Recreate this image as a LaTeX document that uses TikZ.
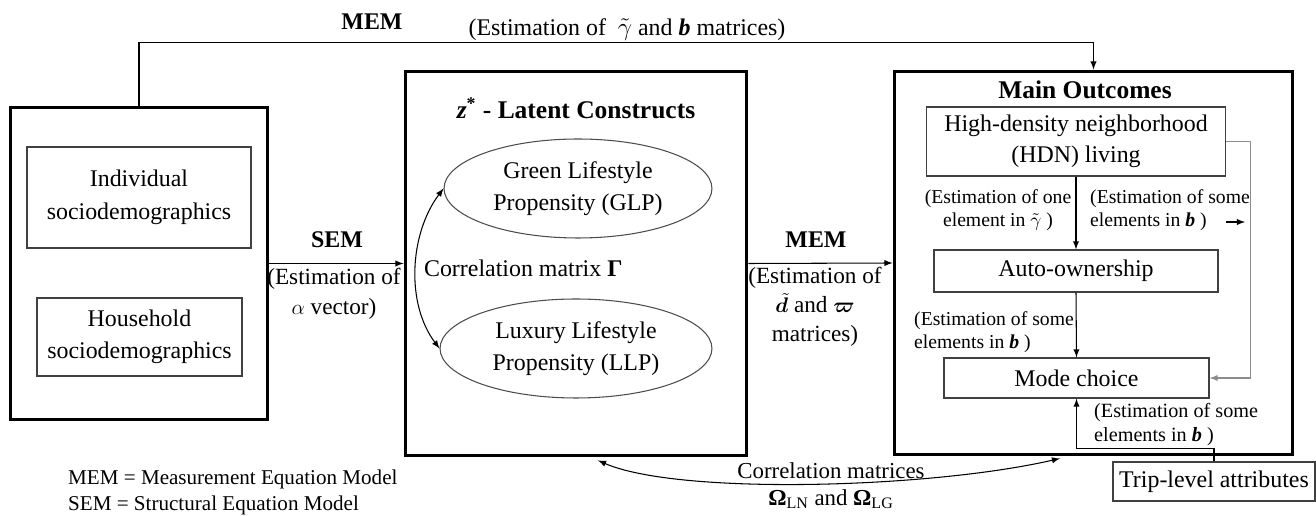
\documentclass[tikz,border=0pt]{standalone}
\usepackage{amsmath}
\usepackage{amssymb}
\usepackage{bm}
\usepackage{fontspec}
\setmainfont{Liberation Serif}
\usetikzlibrary{shapes.geometric}

\begin{document}
\begin{tikzpicture}[x=0.02cm,y=-0.02cm,
    bigbox/.style={draw,line width=1.7pt,inner sep=0pt},
    smallbox/.style={draw=black!75,line width=0.7pt,align=center,inner sep=0pt,font=\fontsize{13.6}{17.5}\selectfont},
    lifestyle/.style={ellipse,draw=black!70,line width=0.6pt,align=center,inner sep=0pt,font=\fontsize{13.6}{18.5}\selectfont},
    est/.style={align=left,inner sep=0.5pt,font=\fontsize{11.2}{13.2}\selectfont},
    link/.style={-latex,line width=0.6pt}]
    \useasboundingbox (0,0) rectangle (1316,516);
    \node[bigbox,minimum width=5.16cm,minimum height=6.26cm] (demo) at (139,263.5) {};
    \node[bigbox,minimum width=6.84cm,minimum height=7.7cm] (lat) at (576,263.5) {};
    \node[bigbox,minimum width=7.98cm,minimum height=7.68cm] (out) at (1093.5,263) {};
    \node[smallbox,font=\fontsize{13.6}{18.8}\selectfont,minimum width=4.48cm,minimum height=2.02cm] (indiv) at (139,197.5) {Individual\\sociodemographics};
    \node[smallbox,font=\fontsize{13.6}{18.3}\selectfont,minimum width=4.1cm,minimum height=1.56cm] (house) at (139.5,337) {Household\\sociodemographics};
    \node[font=\fontsize{14.5}{17}\selectfont\bfseries] (lattitle) at (576,108) {\textit{z}\textsuperscript{*} - Latent Constructs};
    \node[lifestyle,minimum width=5.36cm,minimum height=1.98cm] (glp) at (578,188.5) {Green Lifestyle\\Propensity (GLP)};
    \node[lifestyle,minimum width=5.44cm,minimum height=1.98cm] (llp) at (576,348.5) {Luxury Lifestyle\\Propensity (LLP)};
    \node[anchor=west,inner sep=1pt,font=\fontsize{13.6}{16}\selectfont] (gam) at (422,268) {Correlation matrix \textbf{Γ}};
    \node[font=\fontsize{14.5}{17}\selectfont\bfseries] (outtitle) at (1085,90) {Main Outcomes};
    \node[smallbox,minimum width=5.98cm,minimum height=1.38cm] (hdn) at (1076,141.5) {High-density neighborhood\\(HDN) living};
    \node[smallbox,minimum width=5.68cm,minimum height=0.84cm] (auto) at (1076,271) {Auto-ownership};
    \node[smallbox,minimum width=5.3cm,minimum height=0.8cm] (mode) at (1076.5,378) {Mode choice};
    \node[smallbox,minimum width=4.04cm,minimum height=0.78cm] (trip) at (1214,481.5) {Trip-level attributes};
    \node[font=\fontsize{13.6}{16}\selectfont\bfseries] (memtop) at (372,22) {MEM};
    \node[font=\fontsize{13.6}{16}\selectfont] (memtopest) at (627,30) {(Estimation of \ $\tilde{\gamma}$ and \textbf{\textit{b}} matrices)};
    \node[font=\fontsize{13.6}{16}\selectfont\bfseries] (sem) at (337,240) {SEM};
    \node[align=center,inner sep=1pt,font=\fontsize{13.2}{17}\selectfont] (semest) at (334,294) {(Estimation of\\$\alpha$ vector)};
    \node[font=\fontsize{13.6}{16}\selectfont\bfseries] (memmid) at (816,240) {MEM};
    \node[align=center,inner sep=1pt,font=\fontsize{13.2}{16.4}\selectfont] (memmidest) at (815,307) {(Estimation of\\$\tilde{\bm{d}}$ and $\bm{\varpi}$\\matrices)};
    \node[est,align=center] (hdnest) at (998,210) {(Estimation of one\\element in $\tilde{\gamma}$ )};
    \node[est,anchor=west] (hdnmodeest) at (1089,210) {(Estimation of some\\elements in \textbf{\textit{b}} )};
    \node[est,anchor=west] (autoest) at (913,332) {(Estimation of some\\elements in \textbf{\textit{b}} )};
    \node[est,anchor=west,font=\fontsize{11.5}{14}\selectfont] (tripest) at (1093,424.5) {(Estimation of some\\elements in \textbf{\textit{b}} )};
    \node[align=center,font=\fontsize{13}{15.4}\selectfont] (omega) at (831,485.5) {Correlation matrices\\\textbf{Ω}\textsubscript{LN} and \textbf{Ω}\textsubscript{LG}};
    \node[anchor=west,align=left,font=\fontsize{12}{14.8}\selectfont] (legend) at (62,492) {MEM = Measurement Equation Model\\SEM = Structural Equation Model};
    \coordinate (hdnarr) at (1226,222);
    \draw[link] (demo.north) -- ++(0,-63) -| (out.north);
    \draw[link] (demo.east) -- (lat.west);
    \draw[link] (lat.east) -- (out.west);
    \draw[latex-latex,line width=0.6pt] (glp.west) .. controls +(-34,45) and +(-34,-45) .. (llp.west);
    \draw[latex-latex,line width=0.6pt] ([xshift=0.44cm,yshift=-0.06cm]lat.south) .. controls +(80,35) and +(-130,30) .. ([xshift=-0.67cm,yshift=-0.04cm]out.south);
    \draw[link] (hdn.south) -- (auto.north);
    \draw[link] (auto.south) -- (mode.north);
    \draw[link,draw=black!45] (hdn.east) -- ++(24.5,0) |- (mode.east);
    \draw[link] (hdnarr) -- ++(19,0);
    \draw[link] (trip.north) -- ++(0,-13) -| (mode.south);
\end{tikzpicture}
\end{document}
